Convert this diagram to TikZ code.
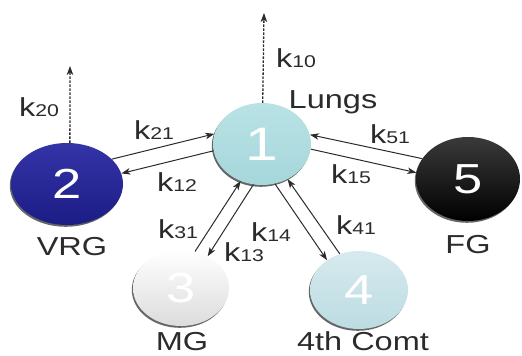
\documentclass[tikz,border=0pt]{standalone}
\usepackage{fontspec}
\usepackage{graphicx}
\setmainfont{Liberation Sans}
\usetikzlibrary{arrows.meta,shapes.geometric,shadows}

\definecolor{ink}{HTML}{2B2B2B}
\definecolor{lungA}{HTML}{B9E2E5}
\definecolor{lungB}{HTML}{A6D7DB}
\definecolor{vrgA}{HTML}{3434A8}
\definecolor{vrgB}{HTML}{1C1C86}
\definecolor{mgA}{HTML}{FFFFFF}
\definecolor{mgB}{HTML}{DCDCDC}
\definecolor{fourA}{HTML}{D6EAEE}
\definecolor{fourB}{HTML}{BCDCE2}
\definecolor{fgA}{HTML}{3A3A3A}
\definecolor{fgB}{HTML}{000000}

% horizontally widened lettering
\newcommand{\wide}[1]{\scalebox{1.25}[1]{#1}}
% rate constant k with small digits
\newcommand{\rate}[1]{\wide{\fontsize{26}{26}\selectfont k\fontsize{17}{17}\selectfont #1}}

\tikzset{
  comp/.style={ellipse, inner sep=0pt, text=white,
    font=\fontsize{42}{42}\selectfont,
    drop shadow={shadow xshift=-1.2pt, shadow yshift=-1.8pt, opacity=0.6, fill=black}},
  tag/.style={anchor=base, text=ink, inner sep=0pt, font=\fontsize{26}{26}\selectfont},
  klabel/.style={text=ink, inner sep=0pt},
  flow/.style={draw=ink, line width=1pt, -{Stealth[length=9pt,width=6.5pt,inset=2.5pt]}},
  leak/.style={flow, line width=1.3pt, dash pattern=on 2.4pt off 1.6pt}
}

\begin{document}
\begin{tikzpicture}[x=1pt,y=-1pt]
\useasboundingbox (0,0) rectangle (522,356);

% compartments
\node[comp, minimum width=98pt, minimum height=82pt, top color=lungA, bottom color=lungB,
      font=\fontsize{47}{47}\selectfont] (n1) at (262,144) {\wide{1}};
\node[comp, minimum width=112pt, minimum height=82pt, top color=vrgA, bottom color=vrgB] (n2) at (67,184) {\wide{2}};
\node[comp, minimum width=96pt, minimum height=76pt, top color=mgA, bottom color=mgB] (n3) at (181,288) {\wide{3}};
\node[comp, minimum width=98pt, minimum height=78pt, top color=fourA, bottom color=fourB] (n4) at (359,290) {\wide{4}};
\node[comp, minimum width=104pt, minimum height=84pt, top color=fgA, bottom color=fgB] (n5) at (468,179) {\wide{5}};

% compartment names
\node[tag] (t1) at (333,108) {\wide{Lungs}};
\node[tag] (t2) at (72,255) {\wide{VRG}};
\node[tag] (t3) at (182,350) {\wide{MG}};
\node[tag] (t4) at (363,350) {\wide{4th Comt}};
\node[tag] (t5) at (468,253) {\wide{FG}};

% elimination
\coordinate (out2) at (70,66);
\coordinate (out1) at (264,13);
\draw[leak] (n2.86) -- (out2);
\draw[leak] (n1.89) -- (out1);

% exchange with the central compartment
\draw[flow] (n2.29) -- (n1.168);
\draw[flow] (n1.188) -- (n2.11);
\draw[flow] (n5.156) -- (n1.11);
\draw[flow] (n1.354) -- (n5.173);
\draw[flow] (n3.69) -- (n1.240);
\draw[flow] (n1.258) -- (n3.50);
\draw[flow] (n1.288) -- (n4.137);
\draw[flow] (n4.118) -- (n1.306);

% rate constants
\node[klabel] (k20) at (39,107) {\rate{20}};
\node[klabel] (k10) at (296,58) {\rate{10}};
\node[klabel] (k21) at (154,130) {\rate{21}};
\node[klabel] (k12) at (177,182) {\rate{12}};
\node[klabel] (k51) at (390,134) {\rate{51}};
\node[klabel] (k15) at (351,174) {\rate{15}};
\node[klabel] (k31) at (178,229) {\rate{31}};
\node[klabel] (k13) at (244,252) {\rate{13}};
\node[klabel] (k14) at (271,232) {\rate{14}};
\node[klabel] (k41) at (356,225) {\rate{41}};
\end{tikzpicture}
\end{document}
